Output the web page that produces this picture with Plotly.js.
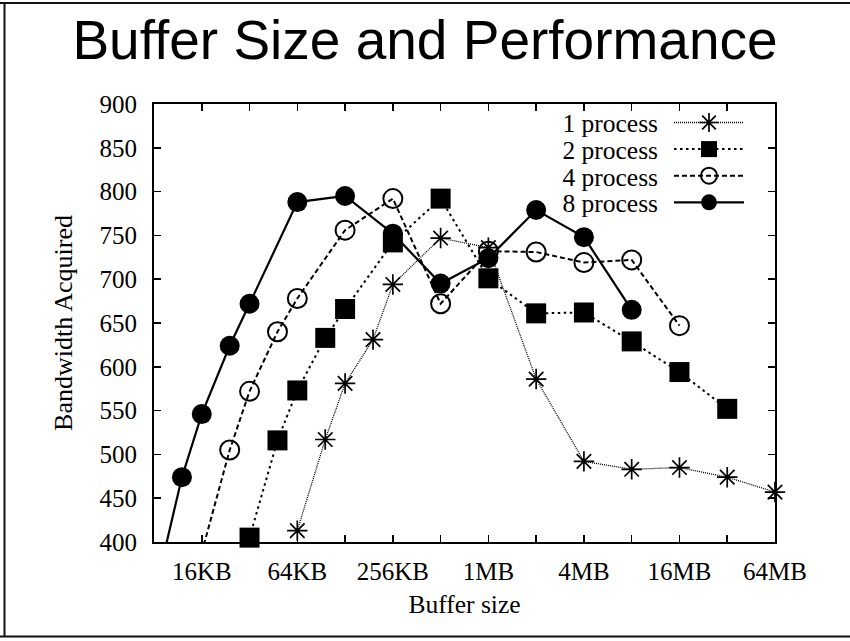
<!DOCTYPE html>
<html>
<head>
<meta charset="utf-8">
<script src="https://cdn.plot.ly/plotly-3.0.1.min.js"></script>
<style>
  html, body { margin: 0; padding: 0; background: #ffffff; }
  #chart { width: 850px; height: 641px; }
</style>
</head>
<body>
<div id="chart"></div>
<script>
// Buffer sizes in KB and the bandwidth measured for each process count
const sizes1 = [64, 96, 128, 192, 256, 512, 1024, 2048, 4096, 8192, 16384, 32768, 65536];
const bandwidth1 = [413, 517, 581, 631, 694, 747, 736, 586, 492, 483, 485, 474, 457];

const sizes2 = [32, 48, 64, 96, 128, 256, 512, 1024, 2048, 4096, 8192, 16384, 32768];
const bandwidth2 = [405, 516, 573, 633, 666, 742, 792, 701, 661, 662, 629, 594, 552];

const sizes4 = [16, 24, 32, 48, 64, 128, 256, 512, 1024, 2048, 4096, 8192, 16384];
const bandwidth4 = [388, 505, 572, 640, 678, 756, 792, 672, 732, 731, 719, 722, 647];

const sizes8 = [8, 12, 16, 24, 32, 64, 128, 256, 512, 1024, 2048, 4096, 8192];
const bandwidth8 = [338, 474, 546, 624, 672, 788, 795, 752, 695, 724, 779, 748, 665];

const seriesNames = ['1 process', '2 process', '4 process', '8 process'];

// One tick per doubling; every other one is labelled
const tickSizes = [16, 32, 64, 128, 256, 512, 1024, 2048, 4096, 8192, 16384, 32768, 65536];
const tickLabels = ['16KB', '', '64KB', '', '256KB', '', '1MB', '', '4MB', '', '16MB', '', '64MB'];

// Page geometry
const W = 850, H = 641;
const M = { l: 154, r: 75, t: 104, b: 99 };
const plotW = W - M.l - M.r, plotH = H - M.t - M.b;
const paperX = px => (px - M.l) / plotW;
const paperY = py => 1 - (py - M.t) / plotH;

const serif = 'Liberation Serif, Times New Roman, serif';
const sans = 'Liberation Sans, Arial, Helvetica, sans-serif';

const traces = [
  {
    x: sizes1, y: bandwidth1, name: seriesNames[0], type: 'scatter', mode: 'lines+markers',
    line: { color: '#000', width: 1.3, dash: '1px,1px' },
    marker: { symbol: 'asterisk-open', size: 17, color: '#000', line: { color: '#000', width: 1.7 } },
    cliponaxis: false
  },
  {
    x: sizes2, y: bandwidth2, name: seriesNames[1], type: 'scatter', mode: 'lines+markers',
    line: { color: '#000', width: 2, dash: '2.5px,3.5px' },
    marker: { symbol: 'square', size: 20, color: '#000', line: { width: 0 } },
    cliponaxis: false
  },
  {
    x: sizes4, y: bandwidth4, name: seriesNames[2], type: 'scatter', mode: 'lines+markers',
    line: { color: '#000', width: 2, dash: '5px,3px' },
    marker: { symbol: 'circle-open', size: 19, color: '#000', line: { color: '#000', width: 2 } },
    cliponaxis: true
  },
  {
    x: sizes8, y: bandwidth8, name: seriesNames[3], type: 'scatter', mode: 'lines+markers',
    line: { color: '#000', width: 2.2 },
    marker: { symbol: 'circle', size: 20, color: '#000', line: { width: 0 } },
    cliponaxis: true
  }
];

// Outer frame around the figure (top, left and bottom rules)
const frameLine = { color: '#111', width: 2 };
const shapes = [
  { type: 'line', xref: 'paper', yref: 'paper', x0: paperX(0), x1: paperX(850), y0: paperY(3), y1: paperY(3), line: frameLine },
  { type: 'line', xref: 'paper', yref: 'paper', x0: paperX(4.5), x1: paperX(4.5), y0: paperY(2), y1: paperY(637), line: frameLine },
  { type: 'line', xref: 'paper', yref: 'paper', x0: paperX(0), x1: paperX(850), y0: paperY(636.5), y1: paperY(636.5), line: frameLine }
];

const layout = {
  width: W, height: H,
  margin: { l: M.l, r: M.r, t: M.t, b: M.b, pad: 0 },
  paper_bgcolor: '#fff', plot_bgcolor: '#fff',
  title: {
    text: 'Buffer Size and Performance',
    font: { family: sans, size: 55, color: '#000' },
    x: 0.5, xref: 'container', xanchor: 'center',
    y: 1 - 39.5 / H, yref: 'container', yanchor: 'middle'
  },
  xaxis: {
    type: 'log',
    range: [Math.log10(8), Math.log10(65536)],
    tickmode: 'array', tickvals: tickSizes, ticktext: tickLabels,
    ticks: 'inside', ticklen: 7, tickwidth: 1.5, tickcolor: '#000',
    showline: true, linewidth: 2, linecolor: '#000', mirror: 'allticks',
    showgrid: false, zeroline: false,
    tickfont: { family: serif, size: 25, color: '#000' },
    ticklabelstandoff: 6,
    title: { text: 'Buffer size', font: { family: serif, size: 25.5, color: '#000' }, standoff: 11 }
  },
  yaxis: {
    range: [400, 900],
    tick0: 400, dtick: 50,
    ticks: 'inside', ticklen: 7, tickwidth: 1.5, tickcolor: '#000',
    showline: true, linewidth: 2, linecolor: '#000', mirror: 'allticks',
    showgrid: false, zeroline: false,
    tickfont: { family: serif, size: 25, color: '#000' },
    ticklabelstandoff: 10,
    title: { text: 'Bandwidth Acquired', font: { family: serif, size: 26, color: '#000' }, standoff: 19 }
  },
  showlegend: true,
  legend: {
    x: 0.75, y: 0.97, xanchor: 'left', yanchor: 'top',
    bgcolor: 'rgba(0,0,0,0)', borderwidth: 0,
    font: { family: serif, size: 25.5, color: '#000' },
    itemclick: false, itemdoubleclick: false
  },
  shapes: shapes
};

// Legend keys: label on the left, right-aligned, with a long sample line and the marker in its middle
const LEGEND_ORIGIN = { x: 674, y: 122.5 };
const LEGEND_STEP = 26.6;
const KEY_LENGTH = 70;
const LABEL_GAP = 16;

function arrangeLegend(gd) {
  const legend = gd.querySelector('.legend');
  if (!legend) return;
  legend.setAttribute('transform', `translate(${LEGEND_ORIGIN.x},${LEGEND_ORIGIN.y})`);
  const scroll = legend.querySelector('.scrollbox');
  if (scroll) { scroll.removeAttribute('clip-path'); scroll.setAttribute('transform', 'translate(0,0)'); }
  legend.querySelectorAll('.groups').forEach(g => g.setAttribute('transform', 'translate(0,0)'));
  const bg = legend.querySelector('rect.bg');
  if (bg) bg.setAttribute('width', 0);
  legend.querySelectorAll('.traces').forEach((g, i) => {
    g.setAttribute('transform', `translate(0,${i * LEGEND_STEP})`);
    const label = g.querySelector('.legendtext');
    if (label) {
      label.setAttribute('x', -LABEL_GAP);
      label.setAttribute('text-anchor', 'end');
      label.style.textAnchor = 'end';
    }
    g.querySelectorAll('.legendlines path').forEach(p => p.setAttribute('d', `M0,0h${KEY_LENGTH}`));
    g.querySelectorAll('.legendpoints path').forEach(p => p.setAttribute('transform', `translate(${KEY_LENGTH / 2},0)`));
    const toggle = g.querySelector('rect.legendtoggle');
    if (toggle) toggle.setAttribute('width', 0);
  });
}

Plotly.newPlot('chart', traces, layout, { displayModeBar: false, staticPlot: true }).then(arrangeLegend);
</script>
</body>
</html>
